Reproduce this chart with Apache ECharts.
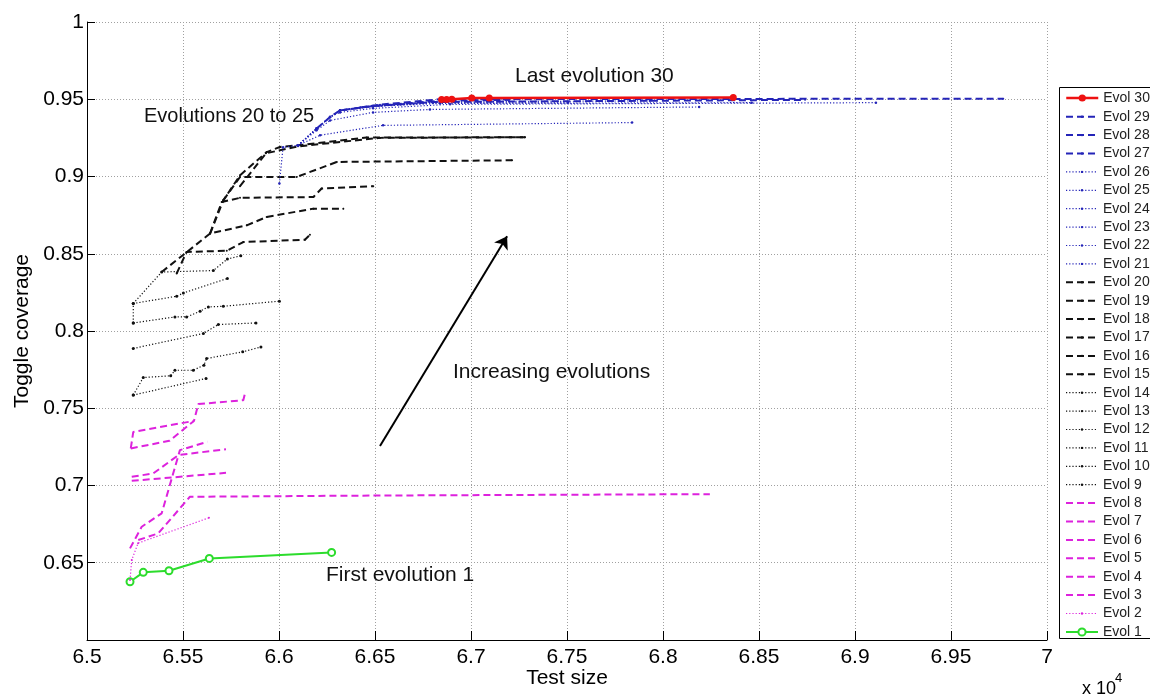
<!DOCTYPE html>
<html>
<head>
<meta charset="utf-8">
<title>Toggle coverage per evolution</title>
<script src="https://cdn.jsdelivr.net/npm/echarts@6/dist/echarts.min.js"></script>
<style>
  html, body { margin: 0; padding: 0; background: #fff; }
  #chart { width: 1150px; height: 700px; }
</style>
</head>
<body>
<div id="chart"></div>
<script>
// [test size, toggle coverage] per evolution, test size is the raw value (axis shows x 10^4)
const evol1 = [[65224, 0.6377], [65293, 0.6438], [65427, 0.6448], [65637, 0.6528], [66274, 0.6567]]
const evol2 = [[65224, 0.6388], [65233, 0.6517], [65266, 0.6627], [65635, 0.6791]]
const evol3 = [[65224, 0.6593], [65285, 0.6733], [65389, 0.6820], [65484, 0.7229], [65627, 0.7283]]
const evol4 = [[65267, 0.6647], [65371, 0.6690], [65536, 0.6927], [66500, 0.6935], [68244, 0.6944]]
const evol5 = [[65233, 0.7030], [65724, 0.7082]]
const evol6 = [[65233, 0.7056], [65345, 0.7078], [65476, 0.7197], [65724, 0.7235]]
const evol7 = [[65228, 0.7240], [65241, 0.7347], [65557, 0.7418]]
const evol8 = [[65228, 0.7240], [65429, 0.7289], [65557, 0.7418], [65580, 0.7527], [65814, 0.7552], [65823, 0.7596]]
const evol9 = [[65241, 0.7585], [65620, 0.7693]]
const evol10 = [[65241, 0.7585], [65293, 0.7699], [65436, 0.7710], [65458, 0.7746], [65554, 0.7746], [65609, 0.7779], [65623, 0.7822], [65811, 0.7865], [65906, 0.7897]]
const evol11 = [[65241, 0.7887], [65606, 0.7984], [65684, 0.8042], [65880, 0.8052]]
const evol12 = [[65241, 0.8052], [65458, 0.8091], [65519, 0.8091], [65589, 0.8128], [65632, 0.8156], [65710, 0.8160], [66002, 0.8193]]
const evol13 = [[65241, 0.8052], [65241, 0.8178], [65467, 0.8225], [65502, 0.8246], [65731, 0.8340]]
const evol14 = [[65241, 0.8178], [65389, 0.8382], [65658, 0.8391], [65731, 0.8466], [65801, 0.8487]]
const evol15 = [[65467, 0.8372], [65519, 0.8512], [65728, 0.8519], [65814, 0.8576], [66135, 0.8591], [66161, 0.8623]]
const evol16 = [[65389, 0.8382], [65519, 0.8510], [65641, 0.8631], [65832, 0.8684], [65936, 0.8738], [66179, 0.8792], [66335, 0.8792]]
const evol17 = [[65641, 0.8631], [65702, 0.8835], [65797, 0.8862], [66179, 0.8867], [66222, 0.8922], [66491, 0.8937]]
const evol18 = [[65710, 0.8846], [65797, 0.8997], [66092, 0.8997], [66301, 0.9094], [67214, 0.9105]]
const evol19 = [[65797, 0.8937], [65932, 0.9150], [66099, 0.9195], [66526, 0.9250], [67281, 0.9254]]
const evol20 = [[65641, 0.8631], [65710, 0.8846], [65797, 0.9008], [65936, 0.9158], [66005, 0.9191], [66101, 0.9202], [66457, 0.9252], [67281, 0.9254]]
const evol21 = [[66002, 0.8954], [66021, 0.9189], [66099, 0.9202], [66214, 0.9267], [66542, 0.9331], [67839, 0.9349]]
const evol22 = [[66099, 0.9202], [66196, 0.9299], [66266, 0.9363], [66490, 0.9415], [66786, 0.9434], [68188, 0.9450]]
const evol23 = [[66099, 0.9202], [66196, 0.9310], [66266, 0.9385], [66318, 0.9415], [66490, 0.9441], [66891, 0.9467], [69109, 0.9478]]
const evol24 = [[66099, 0.9202], [66196, 0.9310], [66266, 0.9385], [66318, 0.9428], [66490, 0.9454], [66839, 0.9473], [68462, 0.9478]]
const evol25 = [[66099, 0.9202], [66196, 0.9310], [66266, 0.9385], [66318, 0.9428], [66490, 0.9456], [66802, 0.9477], [67505, 0.9477]]
const evol26 = [[66099, 0.9202], [66196, 0.9310], [66266, 0.9385], [66318, 0.9428], [66490, 0.9456], [66839, 0.9482], [67932, 0.9490]]
const evol27 = [[66196, 0.9310], [66266, 0.9385], [66318, 0.9428], [66490, 0.9456], [66802, 0.9482], [68740, 0.9496]]
const evol28 = [[66318, 0.9428], [66490, 0.9456], [66839, 0.9490], [67200, 0.9496]]
const evol29 = [[66422, 0.9447], [66526, 0.9465], [66839, 0.9500], [69772, 0.9504]]
const evol30 = [[66847, 0.9498], [66873, 0.9498], [66900, 0.9500], [67004, 0.9508], [67095, 0.9508], [68366, 0.9511]]

const evolutions = [evol1, evol2, evol3, evol4, evol5, evol6, evol7, evol8, evol9, evol10,
  evol11, evol12, evol13, evol14, evol15, evol16, evol17, evol18, evol19, evol20,
  evol21, evol22, evol23, evol24, evol25, evol26, evol27, evol28, evol29, evol30]
const names = evolutions.map((d, i) => 'Evol ' + (i + 1))

// axis ranges
const xMin = 65000, xMax = 70000, xStep = 500
const yMin = 0.6, yMax = 1, yStep = 0.05

// arrow "increasing evolutions", from / to in data coords
const arrowFrom = [66526, 0.7255]
const arrowTo = [67188, 0.8613]

const notes = [
  {text: 'Last evolution 30', at: [67229, 0.9648], size: 21},
  {text: 'Evolutions 20 to 25', at: [65297, 0.9387], size: 20},
  {text: 'Increasing evolutions', at: [66906, 0.7734], size: 21},
  {text: 'First evolution 1', at: [66245, 0.6420], size: 21}
]

const FONT = 'Liberation Sans, Arial, sans-serif'
const MAGENTA = '#dd22dd', BLUE = '#2424b8', BLACK = '#111'

function styleFor(n) {
  if (n === 1) return {color: '#2cdc2c', type: 'solid', width: 2, symbol: 'emptyCircle', size: 7}
  if (n === 2) return {color: MAGENTA, type: [1.2, 2], width: 1.2, symbol: 'circle', size: 2}
  if (n <= 8) return {color: MAGENTA, type: [7, 4], width: 2, symbol: 'none', size: 0}
  if (n <= 14) return {color: BLACK, type: [1.2, 2], width: 1.2, symbol: 'circle', size: 3}
  if (n <= 20) return {color: BLACK, type: [7, 4], width: 2, symbol: 'circle', size: 2}
  if (n <= 26) return {color: BLUE, type: [1.2, 2], width: 1.2, symbol: 'circle', size: 2.5}
  if (n <= 29) return {color: BLUE, type: [7, 4], width: 2, symbol: 'circle', size: 2}
  return {color: '#ee1111', type: 'solid', width: 2.5, symbol: 'circle', size: 7}
}

const series = evolutions.map((data, i) => {
  const s = styleFor(i + 1)
  return {
    name: names[i],
    type: 'line',
    data: data,
    symbol: s.symbol,
    symbolSize: s.size,
    showSymbol: s.symbol !== 'none',
    lineStyle: {color: s.color, width: s.width, type: s.type},
    itemStyle: {color: s.color, borderWidth: s.symbol === 'emptyCircle' ? 1.5 : 0},
    emphasis: {disabled: true},
    z: 2 + i / 100
  }
})

// arrow only, no data of its own
series.push({
  name: 'arrow',
  type: 'line',
  data: [],
  markLine: {
    silent: true,
    symbol: ['none', 'arrow'],
    symbolSize: 12,
    label: {show: false},
    lineStyle: {color: '#000', width: 2, type: 'solid'},
    data: [[{coord: arrowFrom}, {coord: arrowTo}]]
  }
})

const num = v => String(parseFloat(v.toFixed(2)))

const legendBase = {
  orient: 'vertical',
  left: 1065,
  padding: 0,
  itemWidth: 32,
  itemGap: 4.4,
  selectedMode: false,
  textStyle: {fontSize: 14, color: '#222', fontFamily: FONT},
  lineStyle: {width: 'inherit'}
}

const middleNames = names.slice(1, 29).reverse().map(n => {
  const k = +n.split(' ')[1]
  return (k >= 3 && k <= 8) ? {name: n, itemStyle: {opacity: 0}} : {name: n}
})

const option = {
  animation: false,
  backgroundColor: '#fff',
  grid: {left: 87, right: 103, top: 22, bottom: 60, outerBoundsMode: 'none'},
  xAxis: {
    type: 'value',
    min: xMin, max: xMax, interval: xStep,
    name: 'Test size',
    nameLocation: 'middle',
    nameGap: 28,
    nameMoveOverlap: false,
    nameTextStyle: {fontSize: 21, color: '#000', fontFamily: FONT},
    axisLine: {show: true, onZero: false, lineStyle: {color: '#000', width: 1}},
    axisTick: {show: true, inside: true, length: 9, lineStyle: {color: '#000'}},
    axisLabel: {fontSize: 21, color: '#000', fontFamily: FONT, margin: 7,
      formatter: v => num(v / 10000)},
    splitLine: {show: true, lineStyle: {color: '#a0a0a0', width: 1, type: [1, 2]}}
  },
  yAxis: {
    type: 'value',
    min: yMin, max: yMax, interval: yStep,
    name: 'Toggle coverage',
    nameLocation: 'middle',
    nameGap: 54,
    nameMoveOverlap: false,
    nameTextStyle: {fontSize: 21, color: '#000', fontFamily: FONT},
    axisLine: {show: true, onZero: false, lineStyle: {color: '#000', width: 1}},
    axisTick: {show: true, inside: true, length: 8, lineStyle: {color: '#000'}},
    axisLabel: {fontSize: 21, color: '#000', fontFamily: FONT, margin: 3,
      formatter: v => (v < yMin + 0.001 ? '' : num(v))},
    splitLine: {show: true, lineStyle: {color: '#a0a0a0', width: 1, type: [1, 2]}}
  },
  legend: [
    Object.assign({}, legendBase, {top: 91, itemHeight: 9, data: ['Evol 30']}),
    Object.assign({}, legendBase, {top: 109.7, itemHeight: 3, data: middleNames}),
    Object.assign({}, legendBase, {top: 625, itemHeight: 9, data: ['Evol 1']})
  ],
  series: series
}

const chart = echarts.init(document.getElementById('chart'))
chart.setOption(option)

// annotations placed through the axes
const graphics = [
  {type: 'rect', id: 'legendBox', z: 0,
    shape: {x: 1059.5, y: 87.5, width: 100, height: 551},
    style: {fill: '#fff', stroke: '#000', lineWidth: 1}},
  {type: 'text', id: 'exp', x: 1082, y: 689, z: 10,
    style: {text: 'x 10', font: '18px ' + FONT, fill: '#000', textVerticalAlign: 'middle'}},
  {type: 'text', id: 'exp4', x: 1115, y: 678, z: 10,
    style: {text: '4', font: '13px ' + FONT, fill: '#000', textVerticalAlign: 'middle'}}
]
notes.forEach((n, i) => {
  const p = chart.convertToPixel({gridIndex: 0}, n.at)
  graphics.push({
    type: 'text', id: 'note' + i, x: p[0], y: p[1], z: 10,
    style: {text: n.text, font: n.size + 'px ' + FONT, fill: '#111', textVerticalAlign: 'middle'}
  })
})
chart.setOption({graphic: graphics})
</script>
</body>
</html>
